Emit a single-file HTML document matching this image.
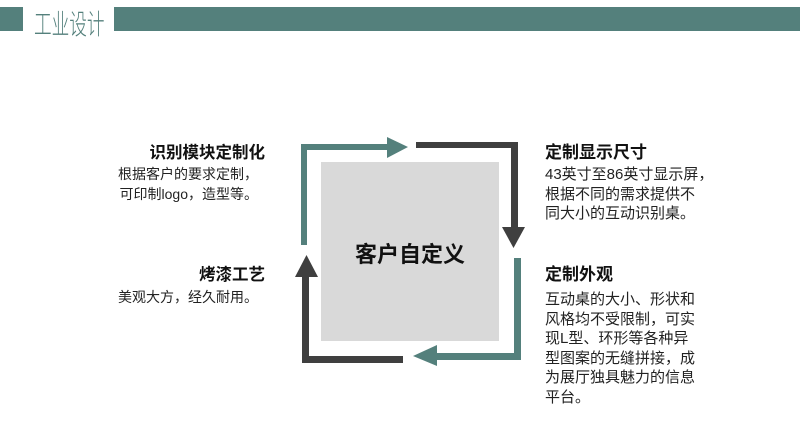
<!DOCTYPE html>
<html><head><meta charset="utf-8"><style>
body{margin:0;width:800px;height:432px;background:#fff;position:relative;overflow:hidden;font-family:"Liberation Sans","Noto Sans CJK SC",sans-serif;}
.a{position:absolute;white-space:nowrap}
.t{font-weight:bold;font-size:16px;color:#111;line-height:20px}
.b{font-size:14px;color:#222;line-height:19.5px}
</style></head><body>
<div class="a" style="left:0;top:7px;width:23px;height:24px;background:#54807c"></div>
<div class="a" style="left:34px;top:8px;font-size:28px;color:#54807c;line-height:34px;transform:scaleX(0.63);transform-origin:0 0;font-weight:300">工业设计</div>
<div class="a" style="left:114px;top:7px;width:686px;height:24px;background:#54807c"></div>

<svg class="a" style="left:0;top:0" width="800" height="432">
<rect x="321" y="162" width="178" height="179" fill="#d9d9d9"/>
<rect x="301" y="144" width="6" height="101" fill="#54807c"/>
<rect x="301" y="144" width="87" height="6" fill="#54807c"/>
<polygon points="387,137 408,147 387,158" fill="#54807c"/>
<rect x="416" y="142" width="102" height="6" fill="#3f3f3f"/>
<rect x="511" y="142" width="7" height="86" fill="#3f3f3f"/>
<polygon points="502,227 525,227 513.5,248" fill="#3f3f3f"/>
<rect x="514" y="258" width="7" height="102" fill="#54807c"/>
<rect x="436" y="353" width="85" height="7" fill="#54807c"/>
<polygon points="437,345 437,366 413,356" fill="#54807c"/>
<rect x="302" y="356" width="101" height="7" fill="#3f3f3f"/>
<rect x="302" y="276" width="7" height="87" fill="#3f3f3f"/>
<polygon points="295,277 318,277 306.5,255" fill="#3f3f3f"/>
</svg>
<div class="a" style="left:321px;top:240px;width:178px;text-align:center;font-size:22px;font-weight:bold;color:#111;line-height:30px">客户自定义</div>

<div class="a t" style="right:535px;top:143px;font-size:16.5px">识别模块定制化</div>
<div class="a b" style="right:542px;top:165px;text-align:right">根据客户的要求定制，<br>可印制logo，造型等。</div>
<div class="a t" style="right:535px;top:265px;font-size:16.5px">烤漆工艺</div>
<div class="a b" style="right:542px;top:288px">美观大方，经久耐用。</div>

<div class="a t" style="left:545px;top:143px;font-size:17px">定制显示尺寸</div>
<div class="a b" style="left:545px;top:165px;font-size:15px">43英寸至86英寸显示屏，<br>根据不同的需求提供不<br>同大小的互动识别桌。</div>
<div class="a t" style="left:545px;top:265px;font-size:17px">定制外观</div>
<div class="a b" style="left:545px;top:290px;font-size:15px">互动桌的大小、形状和<br>风格均不受限制，可实<br>现L型、环形等各种异<br>型图案的无缝拼接，成<br>为展厅独具魅力的信息<br>平台。</div>
</body></html>
